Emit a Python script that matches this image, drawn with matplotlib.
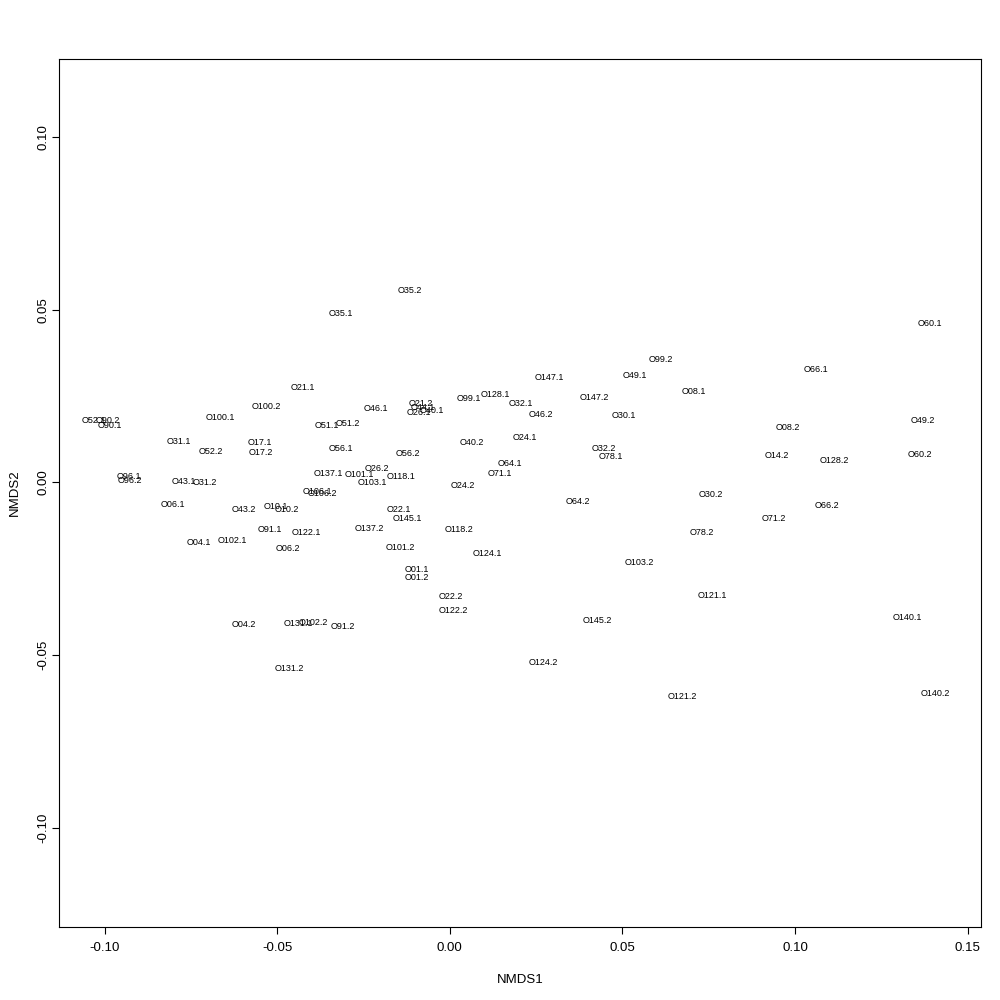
import matplotlib
matplotlib.use("Agg")
import matplotlib.pyplot as plt

plt.rcParams['font.family'] = ['Liberation Sans', 'DejaVu Sans']
plt.rcParams['axes.unicode_minus'] = False

# NMDS site scores
labels = ["O35.2", "O35.1", "O60.1", "O99.2", "O66.1", "O147.1", "O49.1", "O21.1",
          "O08.1", "O128.1", "O99.1", "O147.2", "O32.1", "O21.2", "O100.2", "O46.1",
          "O44.1", "O26.1", "O40.1", "O46.2", "O30.1", "O100.1", "O52.1", "O90.2",
          "O49.2", "O90.1", "O51.1", "O51.2", "O08.2", "O24.1", "O31.1", "O40.2",
          "O17.1", "O56.1", "O32.2", "O52.2", "O17.2", "O56.2", "O14.2", "O78.1",
          "O128.2", "O60.2", "O64.1", "O26.2", "O137.1", "O101.1", "O71.1", "O118.1",
          "O96.1", "O96.2", "O43.1", "O31.2", "O103.1", "O24.2", "O106.1", "O106.2",
          "O30.2", "O64.2", "O06.1", "O66.2", "O43.2", "O10.1", "O10.2", "O22.1",
          "O145.1", "O71.2", "O91.1", "O137.2", "O118.2", "O122.1", "O78.2", "O04.1",
          "O102.1", "O06.2", "O101.2", "O124.1", "O103.2", "O01.1", "O01.2", "O121.1",
          "O22.2", "O122.2", "O145.2", "O140.1", "O04.2", "O131.1", "O102.2", "O91.2",
          "O124.2", "O131.2", "O121.2", "O140.2"]

nmds1 = [-0.0115, -0.0315, 0.1392, 0.0610, 0.1061, 0.0288, 0.0537, -0.0425,
         0.0708, 0.0132, 0.0056, 0.0418, 0.0207, -0.0083, -0.0532, -0.0213,
         -0.0077, -0.0089, -0.0051, 0.0265, 0.0505, -0.0665, -0.1030, -0.0990,
         0.1371, -0.0984, -0.0355, -0.0294, 0.0980, 0.0218, -0.0784, 0.0065,
         -0.0549, -0.0315, 0.0447, -0.0691, -0.0546, -0.0121, 0.0948, 0.0468,
         0.1114, 0.1363, 0.0175, -0.0210, -0.0352, -0.0262, 0.0146, -0.0141,
         -0.0929, -0.0926, -0.0769, -0.0709, -0.0225, 0.0039, -0.0384, -0.0370,
         0.0757, 0.0372, -0.0801, 0.1093, -0.0596, -0.0503, -0.0471, -0.0149,
         -0.0123, 0.0940, -0.0520, -0.0233, 0.0027, -0.0416, 0.0731, -0.0726,
         -0.0630, -0.0468, -0.0144, 0.0108, 0.0549, -0.0094, -0.0094, 0.0760,
         0.0004, 0.0010, 0.0427, 0.1325, -0.0596, -0.0439, -0.0396, -0.0309,
         0.0271, -0.0465, 0.0673, 0.1406]

nmds2 = [0.0557, 0.0488, 0.0459, 0.0355, 0.0326, 0.0305, 0.0311, 0.0274,
         0.0262, 0.0256, 0.0242, 0.0247, 0.0230, 0.0230, 0.0221, 0.0213,
         0.0216, 0.0204, 0.0207, 0.0198, 0.0195, 0.0187, 0.0178, 0.0178,
         0.0178, 0.0164, 0.0164, 0.0172, 0.0158, 0.0129, 0.0120, 0.0117,
         0.0117, 0.0097, 0.0097, 0.0091, 0.0088, 0.0085, 0.0077, 0.0074,
         0.0065, 0.0082, 0.0056, 0.0039, 0.0027, 0.0022, 0.0025, 0.0016,
         0.0016, 0.0007, 0.0004, -0.0001, -0.0001, -0.0010, -0.0025, -0.0033,
         -0.0036, -0.0056, -0.0065, -0.0068, -0.0077, -0.0071, -0.0077, -0.0077,
         -0.0103, -0.0103, -0.0137, -0.0132, -0.0135, -0.0146, -0.0146, -0.0175,
         -0.0169, -0.0192, -0.0187, -0.0207, -0.0233, -0.0253, -0.0274, -0.0326,
         -0.0331, -0.0372, -0.0401, -0.0392, -0.0412, -0.0407, -0.0404, -0.0418,
         -0.0520, -0.0540, -0.0621, -0.0612]

fig = plt.figure(figsize=(10, 10), dpi=100)
ax = fig.add_axes([0.059, 0.073, 0.922, 0.868])

for lab, x, y in zip(labels, nmds1, nmds2):
    ax.text(x, y, lab, ha='center', va='center', fontsize=6.5)

ax.set_xlim(-0.1132, 0.1539)
ax.set_ylim(-0.1287, 0.1226)
ax.set_xticks([-0.10, -0.05, 0.00, 0.05, 0.10, 0.15])
ax.set_xticklabels(["-0.10", "-0.05", "0.00", "0.05", "0.10", "0.15"])
ax.set_yticks([-0.10, -0.05, 0.00, 0.05, 0.10])
ax.set_yticklabels(["-0.10", "-0.05", "0.00", "0.05", "0.10"], rotation=90, va='center')
ax.tick_params(direction='out', length=5, width=0.8, labelsize=9.5)
ax.tick_params(axis='x', pad=6)
ax.tick_params(axis='y', pad=2)
ax.set_xlabel("NMDS1", fontsize=9.5, labelpad=14)
ax.set_ylabel("NMDS2", fontsize=9.5, labelpad=12)
for s in ax.spines.values():
    s.set_linewidth(0.8)

fig.savefig("out.png", dpi=100)
